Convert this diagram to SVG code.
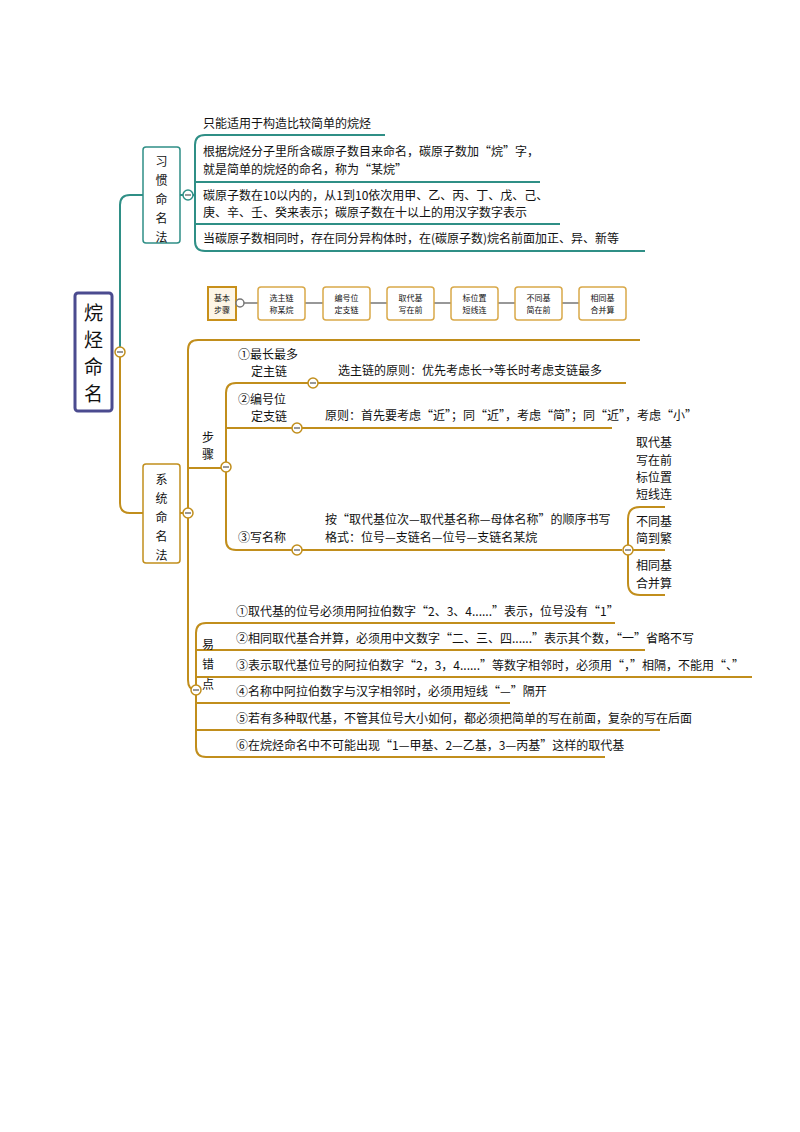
<svg xmlns="http://www.w3.org/2000/svg" width="800" height="1132" viewBox="0 0 800 1132">
<style>
text{font-family:"Noto Sans CJK SC","Liberation Serif",serif;font-size:12px;fill:#111}
.big{font-size:19px;text-anchor:middle}
.t{fill:none;stroke:#2f8f86;stroke-width:2}
.g{fill:none;stroke:#c18e1c;stroke-width:2}
.cg{fill:#fff;stroke:#c18e1c;stroke-width:1.5}
.ct{fill:#fff;stroke:#2f8f86;stroke-width:1.5}
.sb{fill:#fff;stroke:#d9a94a;stroke-width:1.5}
.st{font-size:8px;text-anchor:middle}
</style>
<rect width="800" height="1132" fill="#fff"/>
<g id="connectors">
<path class="t" d="M120 352 V205 Q120 195 130 195 H143"/>
<path class="t" d="M180 195 H195 M385 135 H205 Q195 135 195 145 V241 Q195 251 205 251 H645 M195 182 H540 M195 224 H560"/>
<path class="g" d="M120 352 V503 Q120 513 130 513 H143"/>
<path class="g" d="M180 513 H188 M640 340 H198 Q188 340 188 350 V680 Q188 690 196 690"/>
<path class="g" d="M188 468 H226 M626 383 H236 Q226 383 226 393 V540 Q226 550 236 550 H622 M226 428 H612"/>
<path class="g" d="M628 550 H665 M665 507 H640 Q628 507 628 519 V583 Q628 595 640 595 H665"/>
<path class="g" d="M615 623 H206 Q196 623 196 633 V747 Q196 757 206 757 H605 M196 650 H645 M196 677 H752 M196 703 H510 M196 730 H660"/>
<path d="M236 303 H258 M305 303 H323 M370 303 H387 M434 303 H451 M498 303 H515 M562 303 H579" stroke="#777" stroke-width="1.5" fill="none"/>
</g>
<g id="root">
<rect x="75" y="293" width="37" height="118" rx="3" fill="#fff" stroke="#4b4b8f" stroke-width="3"/>
<text x="93.5" y="320" class="big">烷</text>
<text x="93.5" y="347" class="big">烃</text>
<text x="93.5" y="374" class="big">命</text>
<text x="93.5" y="401" class="big">名</text>
<circle cx="120" cy="352" r="5" class="cg"/><path d="M117 352 H123" stroke="#333"/>
</g>
<g id="xiguan">
<rect x="143" y="147" width="37" height="96" rx="3" fill="#fff" stroke="#2f8f86" stroke-width="1.5"/>
<text x="161.5" y="166" text-anchor="middle">习</text><text x="161.5" y="185" text-anchor="middle">惯</text><text x="161.5" y="204" text-anchor="middle">命</text><text x="161.5" y="223" text-anchor="middle">名</text><text x="161.5" y="242" text-anchor="middle">法</text>
<circle cx="188" cy="195" r="5" class="ct"/><path d="M185 195 H191" stroke="#333"/>
</g>
<g id="xg-leaves">
<text x="203" y="128">只能适用于构造比较简单的烷烃</text>
<text x="203" y="156">根据烷烃分子里所含碳原子数目来命名，碳原子数加“烷”字，</text>
<text x="203" y="174">就是简单的烷烃的命名，称为“某烷”</text>
<text x="203" y="200">碳原子数在10以内的，从1到10依次用甲、乙、丙、丁、戊、己、</text>
<text x="203" y="217">庚、辛、壬、癸来表示；碳原子数在十以上的用汉字数字表示</text>
<text x="203" y="243">当碳原子数相同时，存在同分异构体时，在(碳原子数)烷名前面加正、异、新等</text>
</g>
<g id="steps">
<rect x="208" y="287" width="28" height="33" style="fill:#fdf6e6;stroke:#c8901a;stroke-width:2"/>
<text x="222" y="301" class="st">基本</text><text x="222" y="313" class="st">步骤</text>
<circle cx="240" cy="303" r="4" style="fill:#fff;stroke:#777;stroke-width:1.5"/>
<rect x="258" y="287" width="47" height="33" rx="3" class="sb"/><text x="281.5" y="301" class="st">选主链</text><text x="281.5" y="313" class="st">称某烷</text>
<rect x="323" y="287" width="47" height="33" rx="3" class="sb"/><text x="346.5" y="301" class="st">编号位</text><text x="346.5" y="313" class="st">定支链</text>
<rect x="387" y="287" width="47" height="33" rx="3" class="sb"/><text x="410.5" y="301" class="st">取代基</text><text x="410.5" y="313" class="st">写在前</text>
<rect x="451" y="287" width="47" height="33" rx="3" class="sb"/><text x="474.5" y="301" class="st">标位置</text><text x="474.5" y="313" class="st">短线连</text>
<rect x="515" y="287" width="47" height="33" rx="3" class="sb"/><text x="538.5" y="301" class="st">不同基</text><text x="538.5" y="313" class="st">简在前</text>
<rect x="579" y="287" width="47" height="33" rx="3" class="sb"/><text x="602.5" y="301" class="st">相同基</text><text x="602.5" y="313" class="st">合并算</text>
</g>
<g id="xitong">
<rect x="143" y="464" width="37" height="99" rx="3" fill="#fff" stroke="#c18e1c" stroke-width="1.5"/>
<text x="161.5" y="484" text-anchor="middle">系</text><text x="161.5" y="503" text-anchor="middle">统</text><text x="161.5" y="522" text-anchor="middle">命</text><text x="161.5" y="541" text-anchor="middle">名</text><text x="161.5" y="560" text-anchor="middle">法</text>
<circle cx="188" cy="513" r="5" class="cg"/><path d="M185 513 H191" stroke="#333"/>
</g>
<g id="buzhou">
<text x="202" y="442">步</text><text x="202" y="459">骤</text>
<circle cx="226" cy="467" r="5" class="cg"/><path d="M223 467 H229" stroke="#333"/>
<text x="238" y="359">①最长最多</text><text x="251" y="376">定主链</text>
<circle cx="313" cy="383" r="5" class="cg"/><path d="M310 383 H316" stroke="#333"/>
<text x="338" y="375">选主链的原则：优先考虑长→等长时考虑支链最多</text>
<text x="238" y="404">②编号位</text><text x="251" y="421">定支链</text>
<circle cx="297" cy="428" r="5" class="cg"/><path d="M294 428 H300" stroke="#333"/>
<text x="325" y="420">原则：首先要考虑“近”；同“近”，考虑“简”；同“近”，考虑“小”</text>
<text x="238" y="542">③写名称</text>
<circle cx="297" cy="550" r="5" class="cg"/><path d="M294 550 H300" stroke="#333"/>
<text x="325" y="524">按“取代基位次—取代基名称—母体名称”的顺序书写</text>
<text x="325" y="542">格式：位号—支链名—位号—支链名某烷</text>
<circle cx="628" cy="550" r="5" class="cg"/><path d="M625 550 H631" stroke="#333"/>
<text x="636" y="447">取代基</text><text x="636" y="465">写在前</text><text x="636" y="482">标位置</text><text x="636" y="499">短线连</text>
<text x="636" y="526">不同基</text><text x="636" y="543">简到繁</text>
<text x="636" y="570">相同基</text><text x="636" y="588">合并算</text>
</g>
<g id="yicuo">
<text x="202" y="649">易</text><text x="202" y="669">错</text><text x="202" y="689">点</text>
<circle cx="196" cy="690" r="5" class="cg"/><path d="M193 690 H199" stroke="#333"/>
<text x="236" y="616">①取代基的位号必须用阿拉伯数字“2、3、4......”表示，位号没有“1”</text>
<text x="236" y="643">②相同取代基合并算，必须用中文数字“二、三、四......”表示其个数，“一”省略不写</text>
<text x="236" y="670">③表示取代基位号的阿拉伯数字“2，3，4......”等数字相邻时，必须用“，”相隔，不能用“、”</text>
<text x="236" y="696">④名称中阿拉伯数字与汉字相邻时，必须用短线“—”隔开</text>
<text x="236" y="723">⑤若有多种取代基，不管其位号大小如何，都必须把简单的写在前面，复杂的写在后面</text>
<text x="236" y="750">⑥在烷烃命名中不可能出现“1—甲基、2—乙基，3—丙基”这样的取代基</text>
</g>
</svg>
